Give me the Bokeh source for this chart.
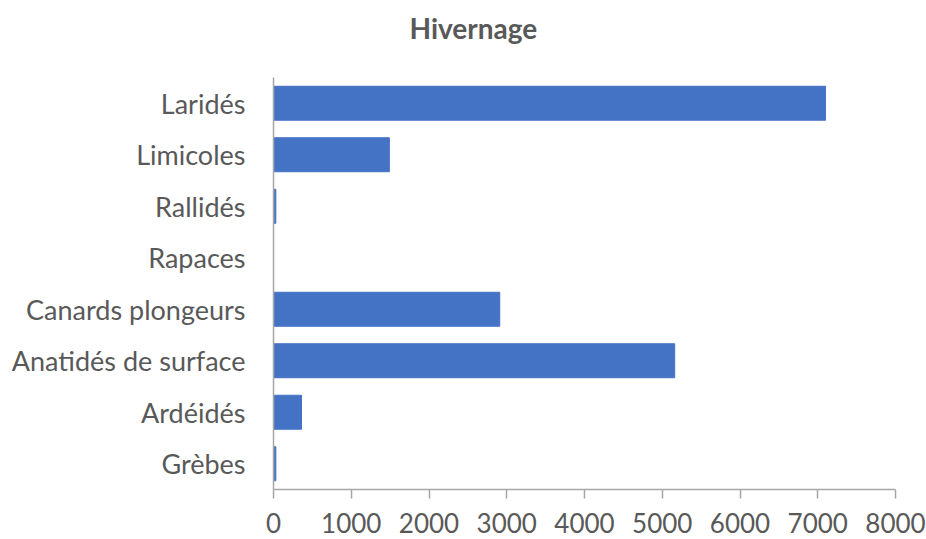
from bokeh.plotting import figure
from bokeh.models import FactorRange, Range1d, FixedTicker, ColumnDataSource, Title
from bokeh.embed import file_html
from bokeh.resources import INLINE

categories = ["Laridés", "Limicoles", "Rallidés", "Rapaces", "Canards plongeurs",
              "Anatidés de surface", "Ardéidés", "Grèbes"]
values = [7100, 1490, 30, 0, 2910, 5160, 360, 30]
x_ticks = [0, 1000, 2000, 3000, 4000, 5000, 6000, 7000, 8000]
title_text = "Hivernage"

FONT = "Lato"
GREY = "#595959"

src = ColumnDataSource(dict(cat=categories, val=values))

p = figure(width=926, height=539, output_backend="svg", toolbar_location=None,
           y_range=FactorRange(factors=list(reversed(categories)), range_padding=0),
           x_range=Range1d(0, 8000),
           min_border_left=273, min_border_right=31, min_border_top=77, min_border_bottom=50,
           title=title_text)
p.hbar(y="cat", right="val", left=0, height=0.66, source=src, color="#4472C4")

p.title.text_font = FONT
p.title.text_font_size = "28px"
p.title.text_font_style = "bold"
p.title.text_color = GREY
p.title.align = "left"
p.title.offset = 136

# spacer between title and frame
p.add_layout(Title(text=" ", text_font_size="14px"), "above")

p.outline_line_color = None
p.xgrid.grid_line_color = None
p.ygrid.grid_line_color = None

p.xaxis.ticker = FixedTicker(ticks=x_ticks)
p.xaxis.axis_line_color = "#a6a6a6"
p.xaxis.axis_line_width = 1.5
p.xaxis.major_tick_line_color = "#a6a6a6"
p.xaxis.major_tick_line_width = 1.5
p.xaxis.major_tick_out = 9
p.xaxis.major_tick_in = 0
p.xaxis.minor_tick_line_color = None
p.xaxis.major_label_text_font = FONT
p.xaxis.major_label_text_font_size = "26px"
p.xaxis.major_label_text_color = GREY
p.xaxis.major_label_standoff = 14

p.yaxis.axis_line_color = "#a6a6a6"
p.yaxis.axis_line_width = 1.5
p.yaxis.major_tick_line_color = None
p.yaxis.minor_tick_line_color = None
p.yaxis.major_label_text_font = FONT
p.yaxis.major_label_text_font_size = "27px"
p.yaxis.major_label_text_color = GREY
p.yaxis.major_label_standoff = 22

open("out.html", "w").write(file_html(p, INLINE))
